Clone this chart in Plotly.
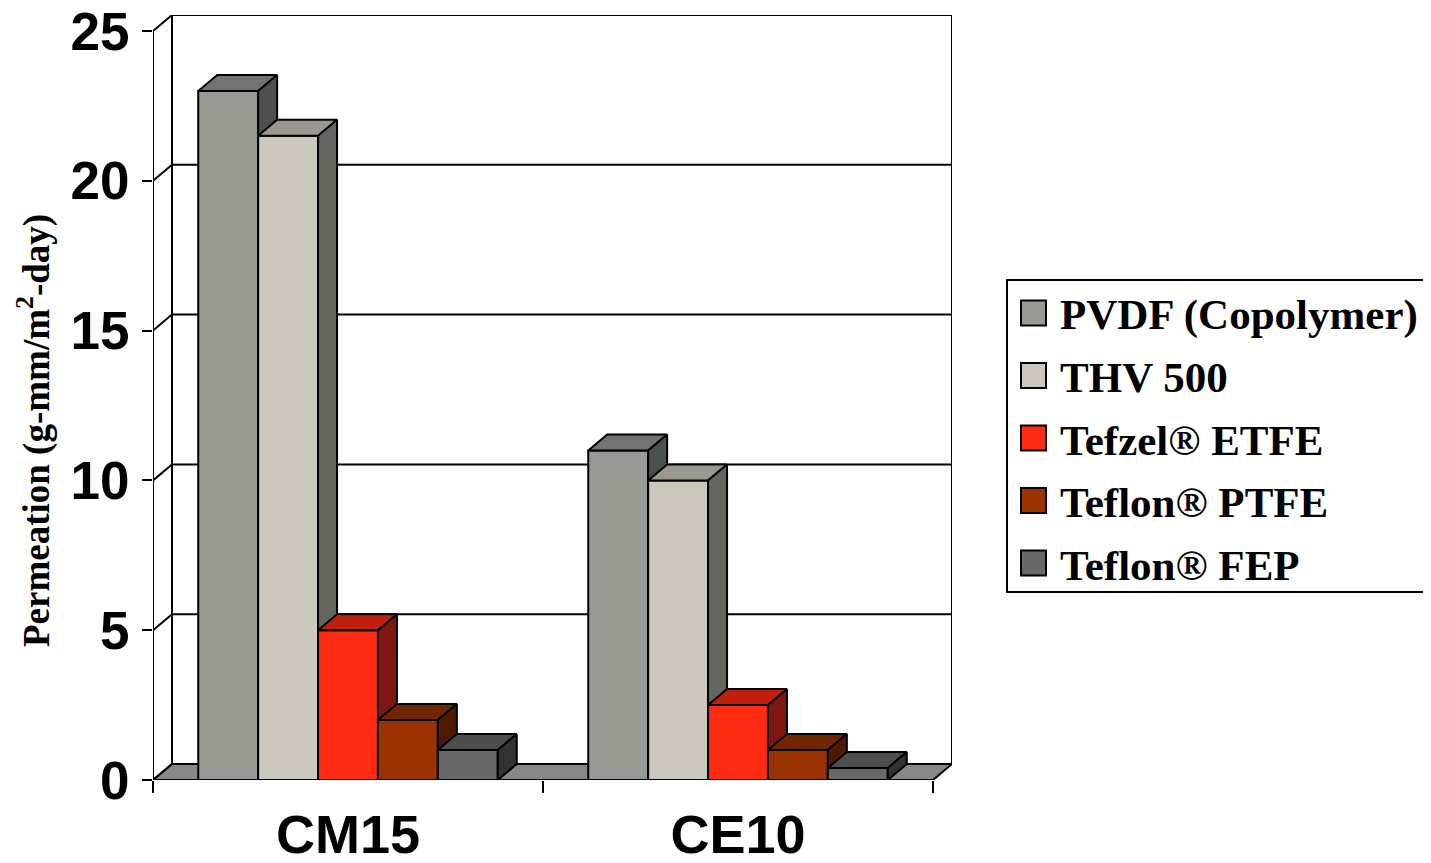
import plotly.graph_objects as go

# ---------------- data ----------------
categories = ["CM15", "CE10"]
series_names = ["PVDF (Copolymer)", "THV 500", "Tefzel® ETFE", "Teflon® PTFE", "Teflon® FEP"]
pvdf = [23.0, 11.0]
thv = [21.5, 10.0]
etfe = [5.0, 2.5]
ptfe = [2.0, 1.0]
fep = [1.0, 0.4]
y_ticks = [0, 5, 10, 15, 20, 25]
series_values = [pvdf, thv, etfe, ptfe, fep]

# ---------------- style ----------------
front_colors = ["#959B93", "#CCC8BE", "#FF2B12", "#9A3300", "#686868"]
top_colors = ["#6F746E", "#9C988F", "#C2200E", "#722600", "#4E4E4E"]
side_colors = ["#4B514B", "#67655F", "#7F1710", "#4E1A00", "#333333"]
floor_color = "#888888"

W, H = 1431, 863
OFF = 8  # page body margin
ML = 153 - OFF
MT = 15 - OFF
MR = W - (952 - OFF)
MB = H - (780 - OFF)
plot_w = W - ML - MR
plot_h = H - MT - MB
PX_PER_X = 390.0
PX_PER_Y = (780 - 31) / 25.0
x_max = plot_w / PX_PER_X
y_top = plot_h / PX_PER_Y
DX = x_max - 2
DY = y_top - 25
GAP = 0.116
BW = (1 - 2 * GAP) / 5

LINE = dict(color="black", width=2)


def px(xp):
    return (xp - OFF - ML) / plot_w


def py(yp):
    return (H - MB - (yp - OFF)) / plot_h


fig = go.Figure()


def poly(xs, ys, fill):
    fig.add_trace(go.Scatter(x=xs, y=ys, mode="lines", fill="toself", fillcolor=fill,
                             line=LINE, hoverinfo="skip", showlegend=False, cliponaxis=False))


def line(xs, ys):
    fig.add_trace(go.Scatter(x=xs, y=ys, mode="lines", line=LINE, hoverinfo="skip",
                             showlegend=False, cliponaxis=False))


# floor
poly([0, 2, 2 + DX, DX, 0], [0, 0, DY, DY, 0], floor_color)

# walls and gridlines
gx, gy = [], []
for t in y_ticks:
    gx += [0, DX, 2 + DX, None]
    gy += [t, t + DY, t + DY, None]
gx += [DX, DX, None, 2 + DX, 2 + DX, None, 0, 0]
gy += [DY, 25 + DY, None, DY, 25 + DY, None, 0, 25]
line(gx, gy)

# bars
for ci in range(len(categories)):
    for si, vals in enumerate(series_values):
        v = vals[ci]
        x0 = ci + GAP + si * BW
        x1 = x0 + BW
        poly([x0, x1, x1, x0, x0], [0, 0, v, v, 0], front_colors[si])
        poly([x0, x1, x1 + DX, x0 + DX, x0], [v, v, v + DY, v + DY, v], top_colors[si])
        poly([x1, x1 + DX, x1 + DX, x1, x1], [0, DY, v + DY, v, 0], side_colors[si])

# custom legend
shapes = [dict(type="rect", xref="paper", yref="paper", x0=px(1007), x1=px(1430),
               y0=py(592), y1=py(280), line=dict(color="black", width=2), fillcolor="white")]
annotations = []
row_centers = [313, 375.5, 438, 500.5, 563]
for si, name in enumerate(series_names):
    yc = row_centers[si]
    shapes.append(dict(type="rect", xref="paper", yref="paper", x0=px(1021), x1=px(1046),
                       y0=py(yc + 12.5), y1=py(yc - 12.5), fillcolor=front_colors[si],
                       line=dict(color="black", width=2)))
    annotations.append(dict(xref="paper", yref="paper", x=px(1058), y=py(yc + 2),
                            xanchor="left", yanchor="middle", showarrow=False, text=name,
                            font=dict(family="Liberation Serif", size=43, color="black",
                                      weight="bold")))

annotations.append(dict(xref="paper", yref="paper", x=px(34), y=py(431), xanchor="center",
                        yanchor="middle", showarrow=False, textangle=-90,
                        text="Permeation (g-mm/m<sup>2</sup>-day)",
                        font=dict(family="Liberation Serif", size=37, color="black",
                                  weight="bold")))

fig.update_layout(
    template="none",
    width=W, height=H,
    margin=dict(l=ML, r=MR, t=MT, b=MB, pad=0, autoexpand=False),
    paper_bgcolor="white", plot_bgcolor="white",
    showlegend=False,
    shapes=shapes, annotations=annotations,
    xaxis=dict(range=[0, x_max], showgrid=False, zeroline=False, showline=False,
               automargin=False, ticklabeloverflow="allow",
               tickvals=[0.5, 1.5], ticktext=categories, ticks="",
               tickfont=dict(family="Liberation Sans", size=54, color="black", weight="bold"),
               ticklabelstandoff=18,
               minor=dict(tickvals=[0, 1, 2], ticks="outside", ticklen=12, tickwidth=2,
                          tickcolor="black", showgrid=False),
               fixedrange=True),
    yaxis=dict(range=[0, y_top], showgrid=False, zeroline=False, showline=False,
               automargin=False, ticklabeloverflow="allow",
               tickvals=y_ticks, ticks="outside", ticklen=10, tickwidth=2, tickcolor="black",
               tickfont=dict(family="Liberation Sans", size=53, color="black", weight="bold"),
               ticklabelstandoff=2,
               fixedrange=True),
)

fig.write_html("out.html")
